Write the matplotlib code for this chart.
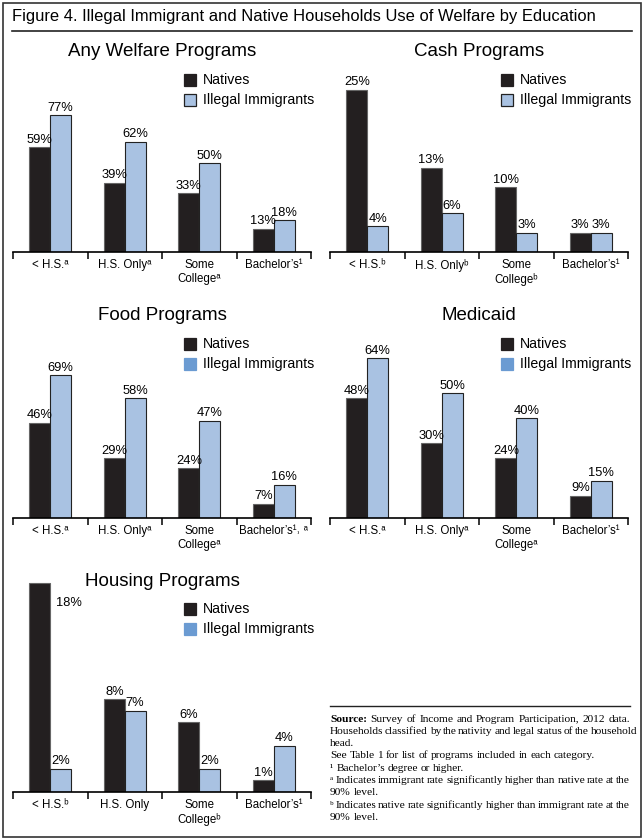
# -*- coding: utf-8 -*-
import numpy as np

import matplotlib
matplotlib.use('Agg')
import matplotlib.pyplot as plt
from matplotlib.patches import Rectangle
from matplotlib.lines import Line2D

W, H = 644, 840
plt.rcParams['font.family'] = ['Liberation Sans', 'DejaVu Sans']

### data (percent of households)
any_natives = [59, 39, 33, 13]
any_illegal = [77, 62, 50, 18]
cash_natives = [25, 13, 10, 3]
cash_illegal = [4, 6, 3, 3]
food_natives = [46, 29, 24, 7]
food_illegal = [69, 58, 47, 16]
medicaid_natives = [48, 30, 24, 9]
medicaid_illegal = [64, 50, 40, 15]
housing_natives = [18, 8, 6, 1]
housing_illegal = [2, 7, 2, 4]

any_labels = ['< H.S.ᵃ', 'H.S. Onlyᵃ', 'Some\nCollegeᵃ', 'Bachelor’s¹']
cash_labels = ['< H.S.ᵇ', 'H.S. Onlyᵇ', 'Some\nCollegeᵇ', 'Bachelor’s¹']
food_labels = ['< H.S.ᵃ', 'H.S. Onlyᵃ', 'Some\nCollegeᵃ', 'Bachelor’s¹˒ ᵃ']
medicaid_labels = ['< H.S.ᵃ', 'H.S. Onlyᵃ', 'Some\nCollegeᵃ', 'Bachelor’s¹']
housing_labels = ['< H.S.ᵇ', 'H.S. Only', 'Some\nCollegeᵇ', 'Bachelor’s¹']

series_names = ['Natives', 'Illegal Immigrants']

source_lines = [
    (['Source:', 'Survey', 'of', 'Income', 'and', 'Program', 'Participation,', '2012', 'data.'], True),
    (['Households', 'classified', 'by', 'the', 'nativity', 'and', 'legal', 'status', 'of', 'the', 'household'], True),
    (['head.'], False),
    (['See', 'Table', '1', 'for', 'list', 'of', 'programs', 'included', 'in', 'each', 'category.'], False),
    (['¹', 'Bachelor’s', 'degree', 'or', 'higher.'], False),
    (['ᵃ', 'Indicates', 'immigrant', 'rate', 'significantly', 'higher', 'than', 'native', 'rate', 'at', 'the'], True),
    (['90%', 'level.'], False),
    (['ᵇ', 'Indicates', 'native', 'rate', 'significantly', 'higher', 'than', 'immigrant', 'rate', 'at', 'the'], True),
    (['90%', 'level.'], False),
]

NAT_C = '#231f20'
IMM_C = '#a9c2e2'
LEG_BLUE = '#6b9bd2'
AX_W, AX_H = 298, 235


def fx(x):
    return x / W


def fy(y):
    return 1 - y / H


def draw_panel(fig, x0, yb, title, title_y, natives, illegal, labels, scale,
               leg_y, leg_edge=True, inside=()):
    ax = fig.add_axes([fx(x0), fy(yb), AX_W / W, AX_H / H])
    ax.patch.set_alpha(0)
    x = np.arange(len(natives))
    bw = 0.28
    ax.bar(x - bw / 2, natives, bw, color=NAT_C, edgecolor='#666666', lw=0.8)
    ax.bar(x + bw / 2, illegal, bw, color=IMM_C, edgecolor='#222222', lw=0.8)
    ax.set_xlim(-0.5, len(natives) - 0.5)
    ax.set_ylim(0, AX_H / scale)

    for i, v in enumerate(natives):
        if i in inside:
            ax.annotate('%d%%' % v, (x[i], v), xytext=(4, -10),
                        textcoords='offset points', ha='left', va='top',
                        fontsize=9.3, annotation_clip=False)
        else:
            ax.annotate('%d%%' % v, (x[i] - bw / 2, v), xytext=(0, 1),
                        textcoords='offset points', ha='center', va='bottom',
                        fontsize=9.3, annotation_clip=False)
    for i, v in enumerate(illegal):
        ax.annotate('%d%%' % v, (x[i] + bw / 2, v), xytext=(0, 1),
                    textcoords='offset points', ha='center', va='bottom',
                    fontsize=9.3, annotation_clip=False)

    for s in ['top', 'left', 'right']:
        ax.spines[s].set_visible(False)
    ax.spines['bottom'].set_linewidth(1.2)
    ax.set_yticks([])
    ax.set_xticks(x, labels)
    ax.tick_params(axis='x', which='major', length=0, pad=5, labelsize=8.3)
    ax.set_xticks(np.arange(len(natives) + 1) - 0.5, minor=True)
    ax.tick_params(axis='x', which='minor', length=5, width=1.1, direction='out')
    for t in ax.get_xticklabels():
        t.set_linespacing(1.25)

    fig.text(fx(x0 + 149), fy(title_y), title, ha='center', va='center',
             fontsize=13.5)

    ### legend made by hand
    lx = x0 + 171
    for k, name in enumerate(series_names):
        yy = leg_y + 20 * k
        if k == 0:
            fc, ec = NAT_C, NAT_C
        else:
            fc = IMM_C if leg_edge else LEG_BLUE
            ec = '#222222' if leg_edge else LEG_BLUE
        fig.patches.append(Rectangle((fx(lx), fy(yy + 6)), 12 / W, 12 / H,
                                     transform=fig.transFigure, fc=fc, ec=ec,
                                     lw=0.9))
        fig.text(fx(lx + 19), fy(yy), name, ha='left', va='center',
                 fontsize=10.2)
    return ax


def draw_source(fig, x0, x1, y0, dy, fontsize=8.2):
    renderer = fig.canvas.get_renderer()
    space = fontsize * 0.25 * 100 / 72
    fam = ['Liberation Serif', 'DejaVu Serif']
    for j, (words, justify) in enumerate(source_lines):
        y = y0 + j * dy
        texts = []
        for i, w in enumerate(words):
            weight = 'bold' if w == 'Source:' else 'normal'
            texts.append(fig.text(fx(x0), fy(y), w, ha='left', va='center',
                                  fontsize=fontsize, fontweight=weight,
                                  family=fam))
        widths = [t.get_window_extent(renderer).width for t in texts]
        gap = space
        if justify and len(words) > 1:
            gap = max((x1 - x0 - sum(widths)) / (len(words) - 1), space * 0.6)
        xx = x0
        for t, wd in zip(texts, widths):
            t.set_x(fx(xx))
            xx += wd + gap


def main():
    fig = plt.figure(figsize=(W / 100, H / 100), dpi=100)

    ### frame and title
    fig.patches.append(Rectangle((fx(3), fy(837)), 638 / W, 834 / H,
                                 transform=fig.transFigure, fill=False,
                                 ec='#333333', lw=1.2))
    ttl = fig.text(fx(12), fy(17), 'Figure 4. Illegal Immigrant and Native '
                   'Households Use of Welfare by Education', ha='left',
                   va='center', fontsize=12)
    renderer = fig.canvas.get_renderer()
    tw = ttl.get_window_extent(renderer).width
    ttl.set_fontsize(12 * 582 / tw)
    fig.lines.append(Line2D([fx(12), fx(632)], [fy(31), fy(31)],
                            transform=fig.transFigure, color='#222222', lw=1.2))

    draw_panel(fig, 13, 252, 'Any Welfare Programs', 52, any_natives,
               any_illegal, any_labels, 1.78, 80)
    draw_panel(fig, 330, 252, 'Cash Programs', 52, cash_natives,
               cash_illegal, cash_labels, 6.5, 80)
    draw_panel(fig, 13, 518, 'Food Programs', 316, food_natives,
               food_illegal, food_labels, 2.07, 344, leg_edge=False)
    draw_panel(fig, 330, 518, 'Medicaid', 316, medicaid_natives,
               medicaid_illegal, medicaid_labels, 2.5, 344, leg_edge=False)
    draw_panel(fig, 13, 792, 'Housing Programs', 581, housing_natives,
               housing_illegal, housing_labels, 11.6, 609, leg_edge=False,
               inside=(0,))

    ### source notes
    fig.lines.append(Line2D([fx(330), fx(630)], [fy(706), fy(706)],
                            transform=fig.transFigure, color='#222222', lw=1.0))
    draw_source(fig, 330, 630, 719, 12.3)

    fig.savefig('out.png', dpi=100)


if __name__ == '__main__':
    main()
